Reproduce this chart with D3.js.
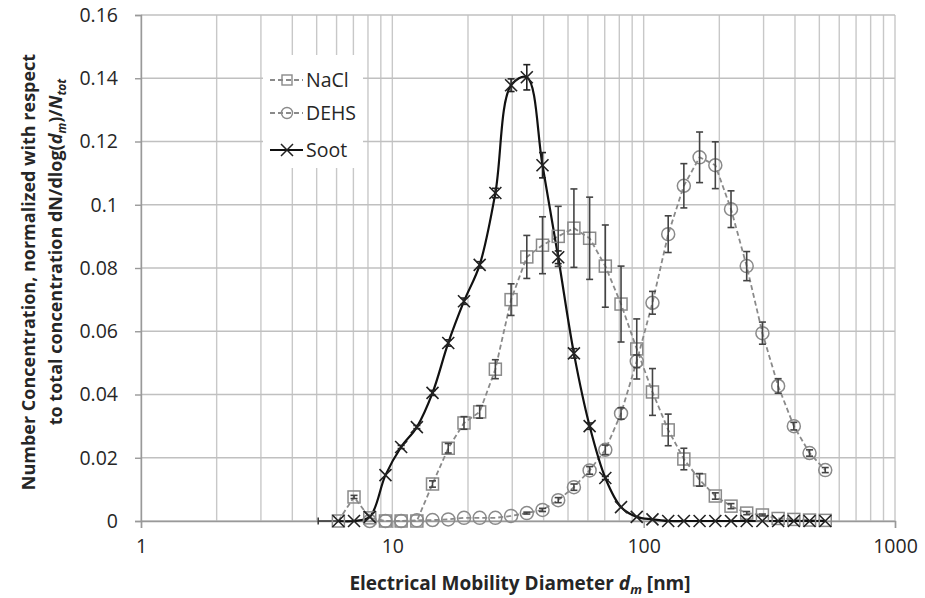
<!DOCTYPE html>
<html>
<head>
<meta charset="utf-8">
<script src="https://cdn.jsdelivr.net/npm/d3@7"></script>
<style>
  body { margin: 0; background: #fff; }
  text { font-family: "Open Sans", "Liberation Sans", sans-serif; }
</style>
</head>
<body>
<script>
// electrical mobility diameter channels [nm]
const diameters = [6.10, 7.04, 8.13, 9.39, 10.84, 12.52, 14.45, 16.69, 19.28, 22.26, 25.70, 29.68,
  34.28, 39.58, 45.71, 52.78, 60.95, 70.38, 81.28, 93.86, 108.4, 125.2, 144.5, 166.9,
  192.8, 222.6, 257.0, 296.8, 342.8, 395.8, 457.1, 527.8];

const nacl = [0, 0.0076, 0.001, 0, 0, 0, 0.0117, 0.023, 0.031, 0.0345, 0.048, 0.070,
  0.0835, 0.0872, 0.090, 0.0926, 0.0894, 0.0806, 0.0686, 0.0544, 0.0408, 0.0288, 0.0196, 0.013,
  0.0079, 0.0047, 0.0025, 0.0019, 0.0008, 0.0005, 0.0003, 0.0002];
const naclErr = [0, 0.0005, 0, 0, 0, 0, 0.001, 0.0015, 0.002, 0.002, 0.003, 0.005,
  0.0068, 0.009, 0.0095, 0.0124, 0.013, 0.013, 0.012, 0.0095, 0.0074, 0.005, 0.0034, 0.002,
  0.001, 0.0008, 0.0005, 0.0003, 0, 0, 0, 0];

const dehs = [0, 0, 0, 0, 0, 0.0002, 0.0003, 0.0005, 0.001, 0.001, 0.001, 0.0016,
  0.0025, 0.0035, 0.0066, 0.0107, 0.016, 0.0225, 0.034, 0.0505, 0.069, 0.0907, 0.106, 0.115,
  0.1125, 0.0986, 0.0806, 0.0594, 0.0427, 0.030, 0.0215, 0.0161];
const dehsErr = [0, 0, 0, 0, 0, 0, 0, 0, 0, 0, 0, 0,
  0.0003, 0.0005, 0.0008, 0.001, 0.0012, 0.0015, 0.0018, 0.002, 0.0036, 0.0058, 0.007, 0.008,
  0.0074, 0.0058, 0.0046, 0.0035, 0.0023, 0.0012, 0.001, 0.0008];

const soot = [0, 0, 0.0013, 0.0145, 0.0234, 0.0297, 0.0405, 0.0563, 0.0695, 0.081, 0.1037, 0.1378,
  0.1403, 0.1125, 0.0834, 0.053, 0.030, 0.0136, 0.0044, 0.0013, 0.0005, 0, 0, 0,
  0, 0, 0, 0, 0, 0, 0, 0];
const sootErr = [0, 0, 0, 0, 0.0005, 0.0005, 0.0008, 0.001, 0.001, 0.001, 0.0015, 0.002,
  0.004, 0.004, 0.002, 0.0015, 0.001, 0.0005, 0, 0, 0, 0, 0, 0,
  0, 0, 0, 0, 0, 0, 0, 0];
const sootFirstLow = 5.07; // lower x error of first soot channel

const xTickValues = [1, 10, 100, 1000];
const xTickLabels = ["1", "10", "100", "1000"];
const yTickValues = [0, 0.02, 0.04, 0.06, 0.08, 0.1, 0.12, 0.14, 0.16];
const yTickLabels = ["0", "0.02", "0.04", "0.06", "0.08", "0.1", "0.12", "0.14", "0.16"];
const seriesNames = ["NaCl", "DEHS", "Soot"];

function main() {
  const width = 925, height = 598;
  const left = 141, right = 895, top = 15, bottom = 521;
  const ink = "#262626";

  const svg = d3.select("body").append("svg")
    .attr("width", width)
    .attr("height", height);

  const x = d3.scaleLog().domain([1, 1000]).range([left, right]);
  const y = d3.scaleLinear().domain([0, 0.16]).range([bottom, top]);

  // gridlines
  const grid = svg.append("g");
  grid.selectAll(".vg").data(x.ticks()).enter().append("line")
    .attr("x1", d => x(d)).attr("x2", d => x(d))
    .attr("y1", top).attr("y2", bottom)
    .attr("stroke", "#c8c8c8").attr("stroke-width", 1.4);
  grid.selectAll(".hg").data(yTickValues).enter().append("line")
    .attr("x1", left).attr("x2", right)
    .attr("y1", d => y(d)).attr("y2", d => y(d))
    .attr("stroke", "#c0c0c0").attr("stroke-width", 1.4);

  // axes
  const xAxis = d3.axisBottom(x)
    .tickValues(xTickValues)
    .tickFormat((d, i) => xTickLabels[i])
    .tickSize(7).tickPadding(11);
  const gx = svg.append("g").attr("transform", `translate(0,${bottom})`).call(xAxis);
  const yAxis = d3.axisLeft(y)
    .tickValues(yTickValues)
    .tickFormat((d, i) => yTickLabels[i])
    .tickSize(6).tickPadding(17);
  const gy = svg.append("g").attr("transform", `translate(${left},0)`).call(yAxis);
  [gx, gy].forEach(g => {
    g.select(".domain").attr("stroke", "#999").attr("stroke-width", 1.4);
    g.selectAll(".tick line").attr("stroke", "#999").attr("stroke-width", 1.4);
    g.selectAll(".tick text").attr("font-size", 19.5).attr("fill", ink)
      .attr("font-family", '"Open Sans", sans-serif');
  });

  const pts = (vals, errs) => diameters.map((d, i) => ({ d: d, v: vals[i], e: errs[i] }));
  const naclPts = pts(nacl, naclErr);
  const dehsPts = pts(dehs, dehsErr);
  const sootPts = pts(soot, sootErr);

  const gray = "#8a8a8a";

  // lines
  const lineLin = d3.line().x(p => x(p.d)).y(p => y(p.v));
  const lineSmooth = d3.line().x(p => x(p.d)).y(p => y(p.v)).curve(d3.curveCatmullRom.alpha(0.5));

  svg.append("path").datum(naclPts).attr("d", lineLin)
    .attr("fill", "none").attr("stroke", gray).attr("stroke-width", 1.8)
    .attr("stroke-dasharray", "5,3");
  svg.append("path").datum(dehsPts).attr("d", lineLin)
    .attr("fill", "none").attr("stroke", gray).attr("stroke-width", 1.8)
    .attr("stroke-dasharray", "5,3");
  svg.append("path").datum(sootPts).attr("d", lineSmooth)
    .attr("fill", "none").attr("stroke", "#111").attr("stroke-width", 2.2);

  // soot first-channel horizontal error
  svg.append("line")
    .attr("x1", x(sootFirstLow)).attr("x2", x(diameters[0]))
    .attr("y1", y(soot[0])).attr("y2", y(soot[0]))
    .attr("stroke", "#333").attr("stroke-width", 1.5);
  svg.append("line")
    .attr("x1", x(sootFirstLow)).attr("x2", x(sootFirstLow))
    .attr("y1", y(soot[0]) - 3.5).attr("y2", y(soot[0]) + 3.5)
    .attr("stroke", "#333").attr("stroke-width", 1.5);

  // markers
  svg.append("g").selectAll("rect").data(naclPts).enter().append("rect")
    .attr("x", p => x(p.d) - 6).attr("y", p => y(p.v) - 6)
    .attr("width", 12).attr("height", 12)
    .attr("fill", "none").attr("stroke", gray).attr("stroke-width", 1.5);
  svg.append("g").selectAll("circle").data(dehsPts.filter(p => p.d > 8)).enter().append("circle")
    .attr("cx", p => x(p.d)).attr("cy", p => y(p.v)).attr("r", 6.5)
    .attr("fill", "none").attr("stroke", gray).attr("stroke-width", 1.5);
  const cross = svg.append("g").selectAll("g").data(sootPts).enter().append("g")
    .attr("transform", p => `translate(${x(p.d)},${y(p.v)})`);
  cross.append("path").attr("d", "M-6,-6L6,6M-6,6L6,-6")
    .attr("stroke", "#222").attr("stroke-width", 1.6);

  // error bars
  function errorBars(data, color) {
    const g = svg.append("g").selectAll("g").data(data.filter(p => p.e > 0)).enter().append("g");
    g.append("line")
      .attr("x1", p => x(p.d)).attr("x2", p => x(p.d))
      .attr("y1", p => y(p.v - p.e)).attr("y2", p => y(p.v + p.e))
      .attr("stroke", color).attr("stroke-width", 1.6);
    [-1, 1].forEach(s => {
      g.append("line")
        .attr("x1", p => x(p.d) - 3.5).attr("x2", p => x(p.d) + 3.5)
        .attr("y1", p => y(p.v + s * p.e)).attr("y2", p => y(p.v + s * p.e))
        .attr("stroke", color).attr("stroke-width", 1.6);
    });
  }
  errorBars(naclPts, "#444");
  errorBars(dehsPts, "#444");
  errorBars(sootPts, "#222");

  // legend
  const lg = svg.append("g");
  lg.append("rect").attr("x", 263).attr("y", 55).attr("width", 100).attr("height", 113).attr("fill", "#fff");
  const rows = [80, 113, 150];
  seriesNames.forEach((name, i) => {
    const yy = rows[i];
    const row = lg.append("g");
    const ln = row.append("line").attr("x1", 270).attr("x2", 303).attr("y1", yy).attr("y2", yy)
      .attr("stroke", i === 2 ? "#111" : gray).attr("stroke-width", i === 2 ? 2.2 : 1.8);
    if (i < 2) ln.attr("stroke-dasharray", "5,3");
    if (i === 0) row.append("rect").attr("x", 282).attr("y", yy - 5).attr("width", 10).attr("height", 10)
      .attr("fill", "none").attr("stroke", gray).attr("stroke-width", 1.4);
    if (i === 1) row.append("circle").attr("cx", 287).attr("cy", yy).attr("r", 5.5)
      .attr("fill", "none").attr("stroke", gray).attr("stroke-width", 1.4);
    if (i === 2) row.append("path").attr("d", `M281,${yy - 6}L293,${yy + 6}M281,${yy + 6}L293,${yy - 6}`)
      .attr("stroke", "#222").attr("stroke-width", 1.5);
    row.append("text").attr("x", 306).attr("y", yy + 7).attr("font-size", 19.5).attr("fill", ink).text(name);
  });

  // x axis title
  const xt = svg.append("text").attr("x", 520).attr("y", 590).attr("text-anchor", "middle")
    .attr("font-size", 19).attr("font-weight", "bold").attr("fill", ink);
  xt.append("tspan").text("Electrical Mobility Diameter ");
  xt.append("tspan").attr("font-style", "italic").text("d");
  xt.append("tspan").attr("font-style", "italic").attr("font-size", 13).attr("dy", 4).text("m");
  xt.append("tspan").attr("dy", -4).text(" [nm]");

  // y axis title
  const yt = svg.append("g").attr("transform", "translate(0,272) rotate(-90)");
  yt.append("text").attr("x", 0).attr("y", 35).attr("text-anchor", "middle")
    .attr("font-size", 18).attr("font-weight", "bold").attr("fill", ink)
    .text("Number Concentration, normalized with respect");
  const y2 = yt.append("text").attr("x", 20).attr("y", 62).attr("text-anchor", "middle")
    .attr("font-size", 18).attr("font-weight", "bold").attr("fill", ink);
  y2.append("tspan").text("to total concentration dN/dlog(");
  y2.append("tspan").attr("font-style", "italic").text("d");
  y2.append("tspan").attr("font-style", "italic").attr("font-size", 12).attr("dy", 4).text("m");
  y2.append("tspan").attr("dy", -4).text(")/");
  y2.append("tspan").attr("font-style", "italic").text("N");
  y2.append("tspan").attr("font-style", "italic").attr("font-size", 12).attr("dy", 4).text("tot");
}

main();
</script>
</body>
</html>
